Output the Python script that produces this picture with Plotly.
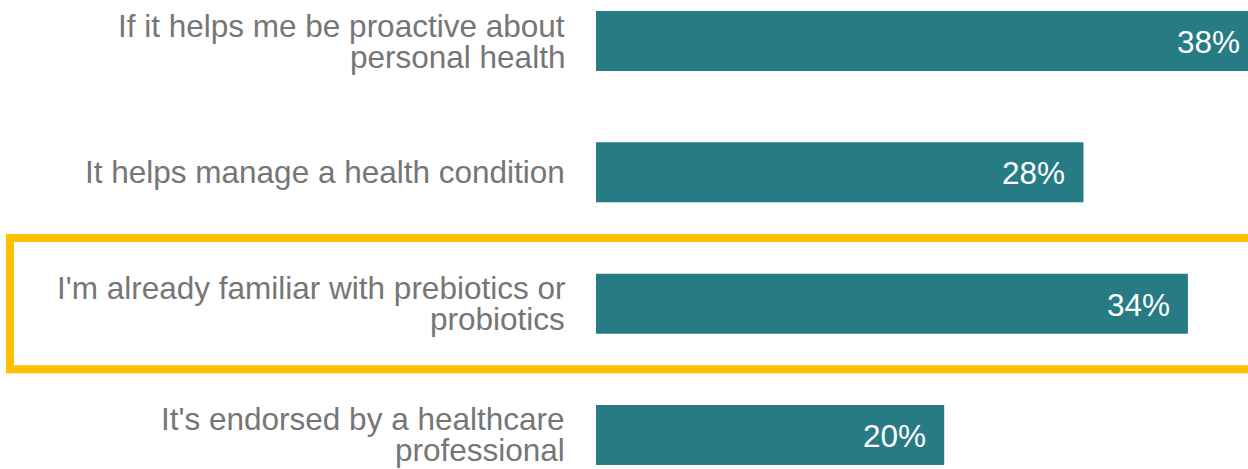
import plotly.graph_objects as go

# Survey reasons and share of respondents (%)
categories = [
    "If it helps me be proactive about<br>personal health",
    "It helps manage a health condition",
    "I'm already familiar with prebiotics or<br>probiotics",
    "It's endorsed by a healthcare<br>professional",
]
values = [38, 28, 34, 20]
value_labels = ["38%", "28%", "34%", "20%"]
highlight_index = 2

BAR_COLOR = "#267B85"
LABEL_COLOR = "#767676"
HIGHLIGHT_COLOR = "#FFC000"
FONT = "Arial, Liberation Sans, sans-serif"
FONT_SIZE = 31.5
LINE_STEP = 31  # px between wrapped label lines

W, H = 1248, 469
LEFT = 596
X_MAX = 37.45  # the longest bar runs past the right edge

positions = list(range(len(categories)))

fig = go.Figure(
    go.Bar(
        x=values,
        y=positions,
        orientation="h",
        marker=dict(color=BAR_COLOR, line=dict(width=0)),
        width=0.457,
        hoverinfo="skip",
    )
)

annotations = []
# category labels, one annotation per wrapped line
for i, label in enumerate(categories):
    lines = label.split("<br>")
    n = len(lines)
    for j, line in enumerate(lines):
        shift = ((n - 1) / 2 - j) * LINE_STEP
        annotations.append(dict(
            text=line, xref="paper", yref="y", x=0, y=i,
            xanchor="right", yanchor="middle", xshift=-29, yshift=shift,
            showarrow=False,
            font=dict(family=FONT, size=FONT_SIZE, color=LABEL_COLOR),
        ))

# value labels inside the bar ends
for i, (v, t) in enumerate(zip(values, value_labels)):
    annotations.append(dict(
        text=t, xref="paper", yref="y", x=v / X_MAX, y=i,
        xanchor="right", yanchor="middle", xshift=-16, yshift=-1,
        showarrow=False,
        font=dict(family=FONT, size=FONT_SIZE, color="white"),
    ))

# highlight frame around the selected reason
fig.add_shape(
    type="rect", xref="paper", yref="y",
    x0=(10 - LEFT) / (W - LEFT), x1=1.02,
    y0=highlight_index - 0.5, y1=highlight_index + 0.5,
    line=dict(color=HIGHLIGHT_COLOR, width=8),
    fillcolor="rgba(0,0,0,0)",
)

step = 131.33
top_center = 41
fig.update_layout(
    width=W, height=H,
    margin=dict(l=LEFT, r=0, t=0, b=0, pad=0),
    paper_bgcolor="white", plot_bgcolor="white",
    showlegend=False,
    annotations=annotations,
    xaxis=dict(range=[0, X_MAX], visible=False, fixedrange=True),
    yaxis=dict(
        range=[(H - top_center) / step, -top_center / step],
        visible=False, fixedrange=True,
    ),
)

fig.write_html("out.html", config={"displayModeBar": False})
